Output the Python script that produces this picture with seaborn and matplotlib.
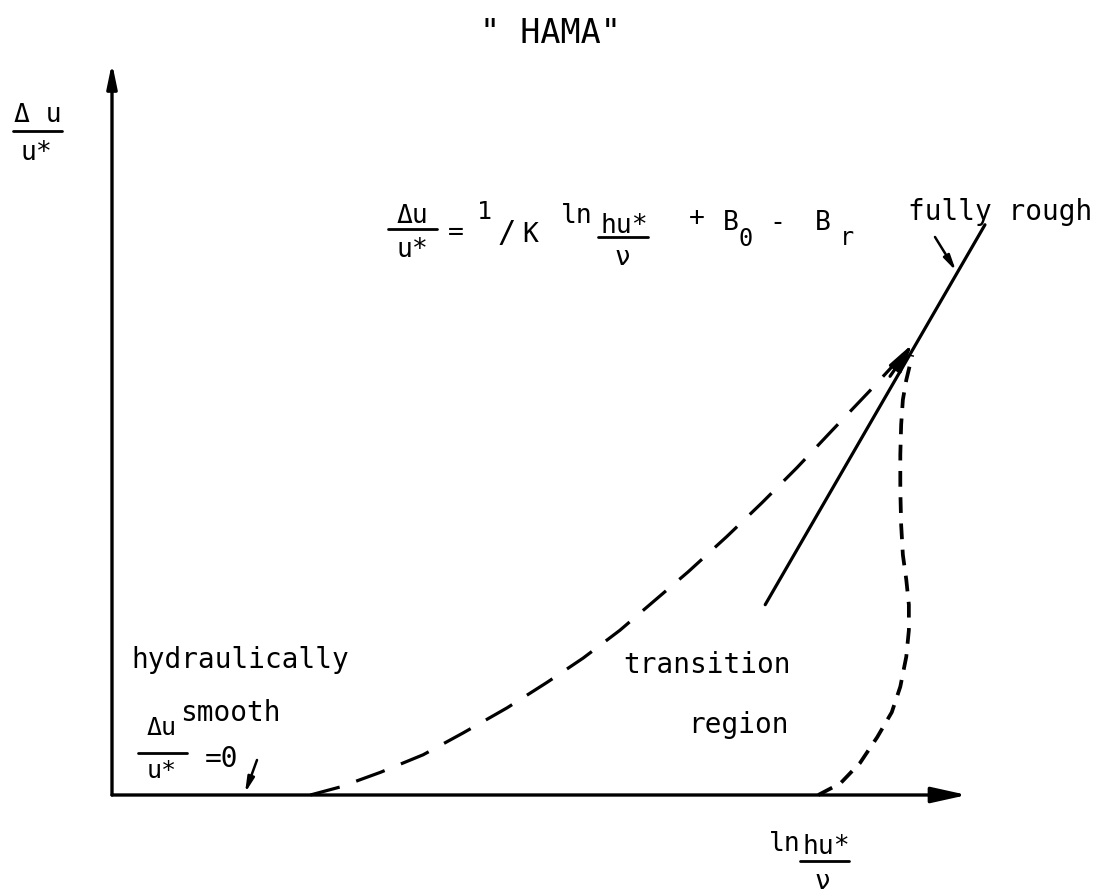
import matplotlib
matplotlib.use("Agg")
import matplotlib.pyplot as plt
import seaborn as sns
import pandas as pd

sns.set_theme(style="white")
plt.rcParams["font.family"] = ["DejaVu Sans Mono", "DejaVu Sans"]

W, H = 1106, 894

# Schematic curves in chart units: x = ln(h u*/nu), y = delta u / u*
transition_upper_x = [2.32, 2.67, 3.14, 3.64, 4.11, 4.62, 5.09, 5.51, 5.94, 6.35,
                      6.74, 7.19, 7.60, 8.01, 8.43, 8.87, 9.28]
transition_upper_y = [0.00, 0.11, 0.31, 0.55, 0.85, 1.19, 1.54, 1.87, 2.25, 2.66,
                      3.05, 3.53, 3.99, 4.47, 4.99, 5.53, 6.05]

transition_lower_x = [8.26, 8.52, 8.75, 8.95, 9.12, 9.22, 9.29, 9.32, 9.32, 9.29,
                      9.25, 9.23, 9.22, 9.22, 9.23, 9.25, 9.29, 9.36]
transition_lower_y = [0.00, 0.16, 0.44, 0.79, 1.13, 1.48, 1.89, 2.25, 2.60, 2.94,
                      3.28, 3.69, 4.17, 4.65, 5.06, 5.40, 5.67, 6.01]

rough_x = [7.64, 10.21]
rough_y = [2.60, 7.79]

fig = plt.figure(figsize=(W / 100, H / 100), dpi=100)
fig.patch.set_facecolor("white")

# axes whose origin sits at the corner of the drawn coordinate arrows
x0, y0, x1, y1 = 112, 795, 967, 63
ax = fig.add_axes([x0 / W, 1 - y0 / H, (x1 - x0) / W, (y0 - y1) / H])
ax.set_xlim(0, 10)
ax.set_ylim(0, 10)
ax.set_axis_off()

INK = "black"

# coordinate arrows
ax.annotate("", xy=(10, 0), xytext=(0, 0), annotation_clip=False,
            arrowprops=dict(arrowstyle="-|>,head_length=1.8,head_width=0.4",
                            lw=2.4, color=INK, shrinkA=0, shrinkB=0))
ax.annotate("", xy=(0, 10), xytext=(0, 0), annotation_clip=False,
            arrowprops=dict(arrowstyle="-|>,head_length=1.2,head_width=0.25",
                            lw=2.4, color=INK, shrinkA=0, shrinkB=0))

up = pd.DataFrame({"x": transition_upper_x, "y": transition_upper_y})
lo = pd.DataFrame({"x": transition_lower_x, "y": transition_lower_y})
rg = pd.DataFrame({"x": rough_x, "y": rough_y})

sns.lineplot(data=up, x="x", y="y", sort=False, estimator=None, ax=ax,
             color=INK, lw=2.3, linestyle=(0, (9.5, 5.5)), clip_on=False)
sns.lineplot(data=lo, x="x", y="y", sort=False, estimator=None, ax=ax,
             color=INK, lw=2.7, linestyle=(0, (4.2, 2.8)), clip_on=False)
sns.lineplot(data=rg, x="x", y="y", sort=False, estimator=None, ax=ax,
             color=INK, lw=2.3, clip_on=False)

# arrowhead on the solid line where the curves meet
ax.annotate("", xy=(9.36, 6.16), xytext=(9.10, 5.72), annotation_clip=False,
            arrowprops=dict(arrowstyle="-|>,head_length=1.4,head_width=0.35",
                            lw=2.3, color=INK, shrinkA=0, shrinkB=0))


def P(x, y):
    return (x / W, 1 - y / H)


def txt(x, y, s, size=20, ha="center", va="baseline", **kw):
    fig.text(*P(x, y), s, fontsize=size, ha=ha, va=va, color=INK, **kw)


def bar(xa, xb, y, lw=2.0):
    fig.add_artist(plt.Line2D([xa / W, xb / W], [1 - y / H, 1 - y / H],
                              transform=fig.transFigure, color=INK, lw=lw))


def pointer(xa, ya, xb, yb, head=True):
    style = "-|>,head_length=0.9,head_width=0.2" if head else "-"
    fig.add_artist(matplotlib.patches.FancyArrowPatch(
        P(xa, ya), P(xb, yb), transform=fig.transFigure,
        arrowstyle=style, mutation_scale=10, lw=1.8, color=INK,
        shrinkA=0, shrinkB=0))


# title
txt(550, 43, "\" HAMA\"", size=24)

# y-axis label
txt(38, 122, "Δ u", size=19)
bar(13, 62, 131)
txt(36, 160, "u*", size=19)

# x-axis label
txt(785, 851, "ln", size=19)
txt(826, 854, "hu*", size=19)
bar(800, 849, 861)
txt(822, 889, "ν", size=19)

# equation of the fully rough line
txt(412, 223, "Δu", size=19)
bar(388, 437, 229)
txt(412, 257, "u*", size=19)
txt(456, 240, "=", size=19)
txt(484, 219, "1", size=18)
txt(507, 242, "/", size=22)
txt(530, 242, "K", size=19)
txt(577, 223, "ln", size=19)
txt(624, 233, "hu*", size=19)
bar(598, 648, 237)
txt(622, 265, "ν", size=19)
txt(697, 225, "+", size=19)
txt(731, 230, "B", size=19)
txt(746, 246, "0", size=17)
txt(777, 230, "-", size=19)
txt(823, 230, "B", size=19)
txt(847, 245, "r", size=17)

txt(1000, 220, "fully rough", size=20)
pointer(935, 237, 956, 271)

# region labels
txt(240, 668, "hydraulically", size=20)
txt(230, 721, "smooth", size=20)
txt(162, 735, "Δu", size=18)
bar(138, 187, 753)
txt(162, 778, "u*", size=18)
txt(222, 767, "=0", size=20)
pointer(257, 760, 245, 793)

txt(707, 673, "transition", size=20)
txt(738, 733, "region", size=20)

fig.savefig("out.png", dpi=100, facecolor="white")
